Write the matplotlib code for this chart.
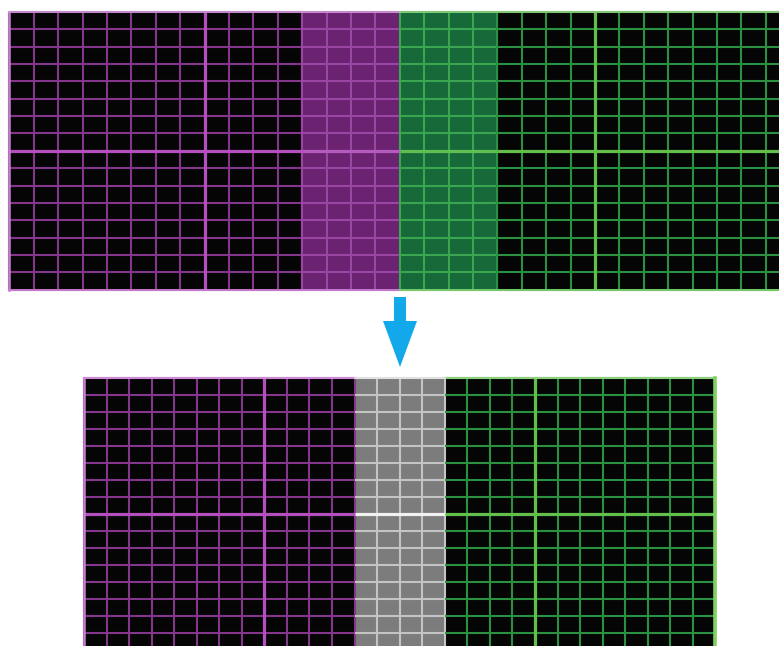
import matplotlib
matplotlib.use("Agg")
import matplotlib.pyplot as plt
from matplotlib.patches import Rectangle, FancyArrow

# ---- data (grid structure of the illustration) ----
image_cols = 16          # cells per source image (horizontal)
grid_rows = 16           # cells per image (vertical)
overlap_cols = 4         # overlapping cells between the two images
major_every = 8          # every 8th line is a major line

# ---- styles ----
PURPLE = dict(bg="#050505", minor="#85368c", major="#b54fc0")
PURPLE_OV = dict(bg="#6a2271", minor="#9a46a3", major="#b45cbd")
GREEN = dict(bg="#050505", minor="#2a9140", major="#62c04a")
GREEN_OV = dict(bg="#17693a", minor="#3aa64f", major="#5fc052")
GRAY = dict(bg="#7c7c7c", minor="#c4c4c4", major="#f2f2f2")

W, H = 779, 646
fig = plt.figure(figsize=(W / 100, H / 100), dpi=100)
ax = fig.add_axes([0, 0, 1, 1])
ax.set_xlim(0, W)
ax.set_ylim(H, 0)
ax.axis("off")


def block(x0, y0, cw, ch, c_start, c_end, nrows, st, col_offset=0, draw_left=True):
    """Draw grid cells c_start..c_end (in block coords) with style st."""
    xa = x0 + c_start * cw
    xb = x0 + c_end * cw
    ya, yb = y0, y0 + nrows * ch
    ax.add_patch(Rectangle((xa, ya), xb - xa, yb - ya, facecolor=st["bg"],
                           edgecolor="none", zorder=1))
    for i in range(c_start if draw_left else c_start + 1, c_end + 1):
        x = x0 + i * cw
        major = (i + col_offset) % major_every == 0 and 0 < (i + col_offset) < image_cols
        ax.plot([x, x], [ya, yb], color=st["major"] if major else st["minor"],
                lw=2.3 if major else 1.5, zorder=3 if major else 2,
                solid_capstyle="butt")
    for j in range(nrows + 1):
        y = y0 + j * ch
        major = j % major_every == 0 and 0 < j < grid_rows
        ax.plot([xa, xb], [y, y], color=st["major"] if major else st["minor"],
                lw=2.3 if major else 1.5, zorder=3 if major else 2,
                solid_capstyle="butt")


# ---- top: two source images side by side ----
tcw, tch = 24.4, 17.35
tx0, ty0 = 9.5, 12.0
nonov = image_cols - overlap_cols
block(tx0, ty0, tcw, tch, 0, nonov, grid_rows, PURPLE)
block(tx0, ty0, tcw, tch, nonov, image_cols, grid_rows, PURPLE_OV)
gx0 = tx0 + image_cols * tcw
block(gx0, ty0, tcw, tch, 0, overlap_cols, grid_rows, GREEN_OV)
block(gx0, ty0, tcw, tch, overlap_cols, image_cols, grid_rows, GREEN)
# borders
ax.plot([tx0, tx0], [ty0, ty0 + grid_rows * tch], color="#c77fd0", lw=1.8, zorder=4)
ax.plot([tx0, gx0], [ty0, ty0], color="#cf9ad6", lw=1.2, zorder=4)
ax.plot([gx0, W], [ty0, ty0], color="#8fd07f", lw=1.2, zorder=4)
ax.plot([tx0, gx0], [ty0 + grid_rows * tch] * 2, color="#c77fd0", lw=1.3, zorder=4)
ax.plot([gx0, W], [ty0 + grid_rows * tch] * 2, color="#7ccc6a", lw=1.3, zorder=4)

# ---- arrow ----
ax.add_patch(FancyArrow(400, 297, 0, 70, width=12, head_width=34, head_length=46,
                        length_includes_head=True, color="#12a9ea", lw=0, zorder=5))

# ---- bottom: stitched image ----
bcw, bch = 22.55, 17.0
bx0, by0 = 84.0, 378.0
block(bx0, by0, bcw, bch, 0, nonov, grid_rows, PURPLE)
block(bx0, by0, bcw, bch, nonov, image_cols, grid_rows, GRAY, draw_left=False)
block(bx0, by0, bcw, bch, image_cols, image_cols + nonov, grid_rows, GREEN,
      col_offset=-(nonov), draw_left=False)
bx_end = bx0 + (image_cols + nonov) * bcw
ax.plot([bx0, bx0], [by0, by0 + grid_rows * bch], color="#c77fd0", lw=1.8, zorder=4)
ax.plot([bx0, bx0 + nonov * bcw], [by0, by0], color="#cf8ad6", lw=1.5, zorder=4)
ax.plot([bx0 + image_cols * bcw, bx_end], [by0, by0], color="#8fd07f", lw=1.5, zorder=4)
ax.plot([bx0 + nonov * bcw, bx0 + image_cols * bcw], [by0, by0], color="#e8e8e8", lw=1.2, zorder=4)
ax.plot([bx_end, bx_end], [by0, by0 + grid_rows * bch], color="#7fd064", lw=2.6, zorder=4)

fig.savefig("out.png", dpi=100, facecolor="white")
